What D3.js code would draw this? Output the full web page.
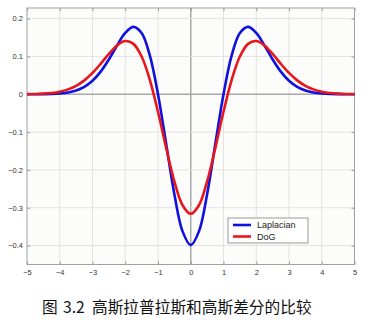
<!DOCTYPE html>
<html><head><meta charset="utf-8">
<script src="https://cdn.jsdelivr.net/npm/d3@7"></script>
<style>body{margin:0;background:#fff;}svg{display:block;}</style>
</head><body>
<script>
const xs = [-5,-4.75,-4.5,-4.25,-4,-3.75,-3.5,-3.25,-3,-2.75,-2.5,-2.25,-2,-1.75,-1.5,-1.25,-1,-0.75,-0.5,-0.25,0,0.25,0.5,0.75,1,1.25,1.5,1.75,2,2.25,2.5,2.75,3,3.25,3.5,3.75,4,4.25,4.5,4.75,5];
const laplacian = [0,0.0001,0.0003,0.0008,0.0020,0.0046,0.0098,0.0194,0.0355,0.0597,0.0920,0.1289,0.1620,0.1780,0.1619,0.1027,0,-0.1317,-0.2641,-0.3625,-0.3989,-0.3625,-0.2641,-0.1317,0,0.1027,0.1619,0.1780,0.1620,0.1289,0.0920,0.0597,0.0355,0.0194,0.0098,0.0046,0.0020,0.0008,0.0003,0.0001,0];
const dog = [0.0003,0.0008,0.0017,0.0035,0.0069,0.0129,0.0224,0.0367,0.0563,0.0805,0.1065,0.1290,0.1407,0.1332,0.0998,0.0383,-0.0463,-0.1419,-0.2304,-0.2933,-0.316,-0.2933,-0.2304,-0.1419,-0.0463,0.0383,0.0998,0.1332,0.1407,0.1290,0.1065,0.0805,0.0563,0.0367,0.0224,0.0129,0.0069,0.0035,0.0017,0.0008,0.0003];
const xTicks = [-5,-4,-3,-2,-1,0,1,2,3,4,5];
const yTicks = [-0.4,-0.3,-0.2,-0.1,0,0.1,0.2];
const seriesNames = ["Laplacian","DoG"];
const seriesColors = ["#1010e0","#e8161c"];
const captionParts = ["图","3.2","高斯拉普拉斯和高斯差分的比较"];

const W=379,H=325;
const svg=d3.select("body").append("svg").attr("width",W).attr("height",H);
const L=27,R=354.5,T=8,B=264.5;
const x=d3.scaleLinear().domain([-5,5]).range([L,R]);
const y=d3.scaleLinear().domain([-0.45,0.228]).range([B,T]);

svg.append("rect").attr("x",L).attr("y",T).attr("width",R-L).attr("height",B-T).attr("fill","#fcfdfb");
// grid
svg.append("g").selectAll("line").data(xTicks.slice(1,-1)).join("line")
  .attr("x1",d=>x(d)).attr("x2",d=>x(d)).attr("y1",T).attr("y2",B)
  .attr("stroke",d=>d===0?"#a8a8a8":"#e2e2e2").attr("stroke-width",d=>d===0?1.5:1);
svg.append("g").selectAll("line").data(yTicks).join("line")
  .attr("x1",L).attr("x2",R).attr("y1",d=>y(d)).attr("y2",d=>y(d))
  .attr("stroke",d=>d===0?"#a8a8a8":"#e2e2e2").attr("stroke-width",d=>d===0?1.5:1);

// axes
const ax=d3.axisBottom(x).tickValues(xTicks).tickFormat(d3.format("d")).tickSizeInner(-3).tickSizeOuter(0);
const gx=svg.append("g").attr("transform",`translate(0,${B})`).call(ax);
const ay=d3.axisLeft(y).tickValues(yTicks).tickFormat(d=>d===0?"0":d3.format(".1f")(d)).tickSizeInner(-3).tickSizeOuter(0);
const gy=svg.append("g").attr("transform",`translate(${L},0)`).call(ay);
const ay2=d3.axisRight(y).tickValues(yTicks).tickFormat("").tickSizeInner(-3).tickSizeOuter(0);
svg.append("g").attr("transform",`translate(${R},0)`).call(ay2);
const ax2=d3.axisTop(x).tickValues(xTicks).tickFormat("").tickSizeInner(-3).tickSizeOuter(0);
svg.append("g").attr("transform",`translate(0,${T})`).call(ax2);
svg.selectAll(".domain").remove();
svg.selectAll(".tick line").attr("stroke","#999");
svg.selectAll(".tick text").attr("font-family","Arial, 'Liberation Sans', sans-serif").attr("font-size",7.5).attr("fill","#333");
gx.selectAll(".tick text").attr("dy","0.71em").attr("y",5);
gy.selectAll(".tick text").attr("x",-4);
svg.append("rect").attr("x",L).attr("y",T).attr("width",R-L).attr("height",B-T).attr("fill","none").attr("stroke","#a0a0a0").attr("stroke-width",1);

// lines
const line=d3.line().x((d,i)=>x(xs[i])).y(d=>y(d)).curve(d3.curveCatmullRom.alpha(0.5));
[laplacian,dog].forEach((s,k)=>{
  svg.append("path").datum(s).attr("d",line).attr("fill","none")
    .attr("stroke",seriesColors[k]).attr("stroke-width",2.6).attr("stroke-linejoin","round");
});
// legend
const lg=svg.append("g").attr("transform","translate(228,218)");
lg.append("rect").attr("width",80).attr("height",25).attr("fill","#fff").attr("stroke","#999");
seriesNames.forEach((n,i)=>{
  lg.append("line").attr("x1",5).attr("x2",23).attr("y1",7+i*11.5).attr("y2",7+i*11.5)
    .attr("stroke",seriesColors[i]).attr("stroke-width",2.6);
  lg.append("text").attr("x",29).attr("y",7+i*11.5).attr("dy","0.35em")
    .attr("font-family","Arial, 'Liberation Sans', sans-serif").attr("font-size",9).attr("fill","#222").text(n);
});
const cap=svg.append("text").attr("y",313)
  .attr("font-family","'Noto Sans CJK SC', sans-serif").attr("font-size",15.7).attr("fill","#111");
const capX=[42,63,92];
captionParts.forEach((p,i)=>cap.append("tspan").attr("x",capX[i]).text(p));
</script>
</body></html>
